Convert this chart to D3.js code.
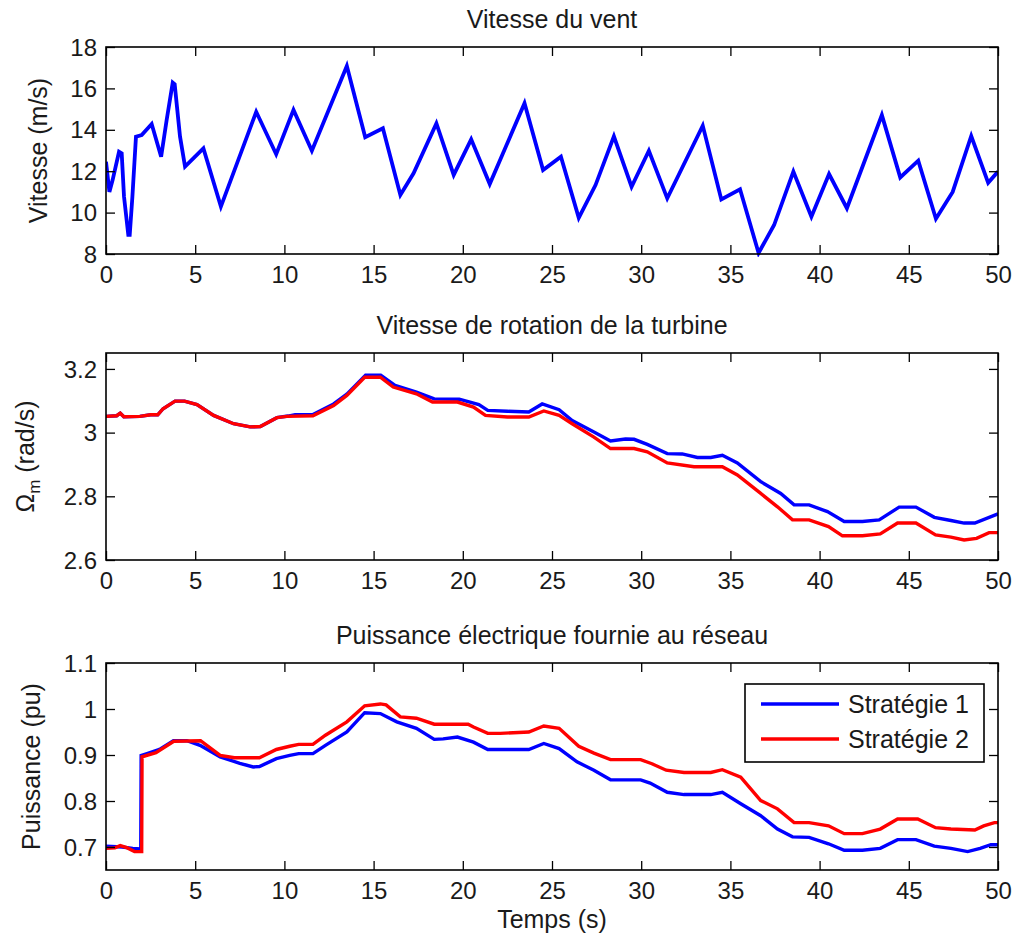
<!DOCTYPE html>
<html>
<head>
<meta charset="utf-8">
<script src="https://cdn.jsdelivr.net/npm/d3@7"></script>
<style>
  html, body { margin: 0; padding: 0; background: #fff; }
  svg { display: block; font-family: "Liberation Sans", Arial, sans-serif; }
</style>
</head>
<body>
<svg id="fig" width="1014" height="937"></svg>
<script>
// ---- Data -------------------------------------------------------------
// Wind speed (m/s) : [time s, value]
const windSpeed = [
  [0, 12.46], [0.19, 11.0], [0.37, 11.57], [0.73, 12.94], [0.88, 12.86],
  [1.01, 10.77], [1.25, 8.92], [1.33, 8.92], [1.48, 10.77], [1.68, 13.67],
  [2.0, 13.75], [2.56, 14.28], [3.09, 12.7], [3.4, 14.47], [3.74, 16.28],
  [3.85, 16.2], [4.15, 13.67], [4.43, 12.22], [5.46, 13.1], [6.44, 10.29],
  [8.42, 14.87], [9.54, 12.82], [10.51, 14.96], [11.54, 12.99], [13.5, 17.08],
  [14.53, 13.64], [15.52, 14.07], [16.5, 10.85], [17.24, 11.9], [18.52, 14.31],
  [19.49, 11.82], [20.47, 13.54], [21.51, 11.38], [23.46, 15.28], [24.5, 12.06],
  [25.5, 12.7], [26.5, 9.75], [27.44, 11.33], [28.47, 13.68], [29.46, 11.25],
  [30.43, 12.99], [31.46, 10.69], [33.45, 14.2], [34.49, 10.64], [35.54, 11.13],
  [36.58, 8.05], [37.45, 9.4], [38.53, 11.98], [39.54, 9.8], [40.53, 11.86],
  [41.53, 10.21], [43.49, 14.71], [44.52, 11.7], [45.53, 12.51], [46.52, 9.7],
  [47.46, 11.0], [48.5, 13.7], [49.45, 11.44], [50, 11.98]
];

// Turbine rotation speed (rad/s), strategy 1
const omegaS1 = [
  [0, 3.051], [0.6, 3.053], [0.8, 3.061], [1.0, 3.05], [1.9, 3.051], [2.5, 3.056],
  [2.9, 3.056], [3.2, 3.075], [3.87, 3.099], [4.4, 3.099], [5.1, 3.088], [6.03, 3.054],
  [7.15, 3.028], [8.08, 3.018], [8.65, 3.019], [9.58, 3.047], [10.2, 3.052], [10.6, 3.056],
  [11.6, 3.057], [12.76, 3.09], [13.5, 3.121], [14.55, 3.18], [15.4, 3.18], [16.2, 3.148],
  [17.4, 3.127], [18.4, 3.106], [19.8, 3.105], [20.9, 3.088], [21.4, 3.07], [22.5, 3.067],
  [23.7, 3.065], [24.45, 3.09], [25.4, 3.072], [26.13, 3.038], [27.35, 3.002], [28.28, 2.974],
  [29.12, 2.98], [29.6, 2.979], [30.34, 2.963], [31.46, 2.934], [32.3, 2.933], [33.15, 2.922],
  [33.9, 2.922], [34.55, 2.929], [35.39, 2.905], [36.7, 2.846], [37.82, 2.809], [38.57, 2.773],
  [39.41, 2.773], [40.44, 2.752], [41.38, 2.721], [42.4, 2.721], [43.34, 2.726], [44.46, 2.766],
  [45.4, 2.766], [46.43, 2.734], [47.36, 2.724], [48.1, 2.716], [48.7, 2.716], [50, 2.745]
];

// Turbine rotation speed (rad/s), strategy 2
const omegaS2 = [
  [0, 3.051], [0.6, 3.053], [0.8, 3.061], [1.0, 3.05], [1.9, 3.051], [2.5, 3.056],
  [2.9, 3.056], [3.2, 3.075], [3.87, 3.099], [4.4, 3.099], [5.1, 3.088], [6.03, 3.054],
  [7.15, 3.028], [8.08, 3.018], [8.65, 3.019], [9.58, 3.047], [10.14, 3.051], [11.6, 3.053],
  [12.76, 3.085], [13.5, 3.117], [14.5, 3.174], [15.38, 3.174], [16.1, 3.143], [17.4, 3.122],
  [18.3, 3.096], [19.7, 3.096], [20.6, 3.08], [21.27, 3.054], [22.5, 3.049], [23.7, 3.049],
  [24.54, 3.068], [25.4, 3.054], [26.13, 3.028], [27.35, 2.986], [28.28, 2.95], [29.6, 2.95],
  [30.34, 2.94], [31.46, 2.905], [32.96, 2.893], [34.55, 2.893], [35.39, 2.867], [36.7, 2.809],
  [37.64, 2.767], [38.48, 2.726], [39.41, 2.726], [40.5, 2.705], [41.28, 2.676], [42.4, 2.676],
  [43.4, 2.682], [44.37, 2.716], [45.4, 2.716], [46.5, 2.679], [47.36, 2.672], [48.1, 2.663],
  [48.8, 2.668], [49.5, 2.686], [50, 2.686]
];

// Electrical power delivered to the grid (pu), strategy 1
const powerS1 = [
  [0, 0.702], [0.9, 0.70], [1.5, 0.697], [1.95, 0.696], [1.97, 0.899], [2.3, 0.903],
  [3.0, 0.912], [3.78, 0.931], [4.53, 0.931], [5.27, 0.921], [6.4, 0.896], [7.5, 0.882],
  [8.25, 0.874], [8.6, 0.875], [9.55, 0.892], [10.3, 0.899], [10.8, 0.903], [11.6, 0.903],
  [12.3, 0.921], [13.5, 0.95], [14.5, 0.992], [15.38, 0.99], [16.3, 0.972], [17.4, 0.958],
  [18.4, 0.934], [18.9, 0.935], [19.7, 0.939], [20.6, 0.928], [21.4, 0.912], [23.7, 0.912],
  [24.54, 0.925], [25.4, 0.914], [26.4, 0.885], [27.35, 0.867], [28.28, 0.846], [29.97, 0.846],
  [30.5, 0.839], [31.46, 0.819], [32.4, 0.814], [33.9, 0.814], [34.55, 0.819], [35.58, 0.794],
  [36.7, 0.768], [37.64, 0.739], [38.48, 0.722], [39.41, 0.721], [40.5, 0.707], [41.38, 0.693],
  [42.4, 0.693], [43.4, 0.697], [44.37, 0.716], [45.4, 0.716], [46.43, 0.702], [47.36, 0.697],
  [48.3, 0.69], [49.0, 0.697], [49.6, 0.705], [50, 0.705]
];

// Electrical power delivered to the grid (pu), strategy 2
const powerS2 = [
  [0, 0.697], [0.5, 0.698], [0.8, 0.703], [1.2, 0.698], [1.6, 0.69], [2.0, 0.69],
  [2.02, 0.896], [2.8, 0.905], [3.8, 0.93], [5.3, 0.931], [6.4, 0.899], [7.2, 0.894],
  [8.6, 0.894], [9.55, 0.912], [10.3, 0.919], [10.8, 0.923], [11.6, 0.923], [12.3, 0.943],
  [13.5, 0.972], [14.5, 1.007], [15.38, 1.011], [15.7, 1.009], [16.5, 0.983], [17.4, 0.98],
  [18.4, 0.967], [20.3, 0.967], [20.6, 0.961], [21.4, 0.947], [22.1, 0.947], [23.7, 0.95],
  [24.54, 0.963], [25.4, 0.958], [26.5, 0.919], [27.35, 0.904], [28.28, 0.89], [29.97, 0.89],
  [30.6, 0.881], [31.4, 0.867], [32.4, 0.862], [33.9, 0.862], [34.55, 0.868], [35.58, 0.852],
  [36.7, 0.801], [37.64, 0.783], [38.57, 0.753], [39.41, 0.753], [40.5, 0.746], [41.38, 0.729],
  [42.4, 0.729], [43.4, 0.739], [44.37, 0.761], [45.5, 0.761], [46.5, 0.742], [47.36, 0.739],
  [48.7, 0.737], [49.2, 0.746], [49.8, 0.753], [50, 0.753]
];

// Tick values
const timeTicks  = [0, 5, 10, 15, 20, 25, 30, 35, 40, 45, 50];
const windTicks  = [8, 10, 12, 14, 16, 18];
const omegaTicks = [2.6, 2.8, 3.0, 3.2];
const powerTicks = [0.7, 0.8, 0.9, 1.0, 1.1];

const legendLabels = ["Stratégie 1", "Stratégie 2"];
const seriesColors = ["#0000ff", "#ff0000"];

// ---- Layout -----------------------------------------------------------
const svg = d3.select("#fig");
svg.append("rect").attr("width", 1014).attr("height", 937).attr("fill", "#fff");

const left = 106, right = 998;
const TICK_FONT = 24, LABEL_FONT = 25;
const textColor = "#1a1a1a";

const x = d3.scaleLinear().domain([0, 50]).range([left, right]);

function panel(opts) {
  const { top, bottom, yDomain, yTicks, yFormat, title, series, widths } = opts;
  const y = d3.scaleLinear().domain(yDomain).range([bottom, top]);
  const g = svg.append("g");

  const clipId = "clip" + Math.round(top);
  g.append("clipPath").attr("id", clipId)
    .append("rect").attr("x", left).attr("y", top - 3)
    .attr("width", right - left).attr("height", bottom - top + 6);

  const line = d3.line().x(d => x(d[0])).y(d => y(d[1]));
  series.forEach((s, i) => {
    g.append("path").datum(s.data)
      .attr("clip-path", `url(#${clipId})`)
      .attr("fill", "none").attr("stroke", s.color)
      .attr("stroke-width", widths).attr("stroke-linejoin", "miter")
      .attr("d", line);
  });

  // axes, ticks pointing inward on all four sides
  const ax = g.append("g").attr("transform", `translate(0,${bottom})`)
    .call(d3.axisBottom(x).tickValues(timeTicks).tickSizeInner(-9).tickSizeOuter(0)
      .tickPadding(12).tickFormat(d3.format("d")));
  const axTop = g.append("g").attr("transform", `translate(0,${top})`)
    .call(d3.axisTop(x).tickValues(timeTicks).tickSizeInner(-9).tickSizeOuter(0).tickFormat(""));
  const ay = g.append("g").attr("transform", `translate(${left},0)`)
    .call(d3.axisLeft(y).tickValues(yTicks).tickSizeInner(-9).tickSizeOuter(0)
      .tickPadding(9).tickFormat(yFormat));
  const ayR = g.append("g").attr("transform", `translate(${right},0)`)
    .call(d3.axisRight(y).tickValues(yTicks).tickSizeInner(-9).tickSizeOuter(0).tickFormat(""));

  [ax, axTop, ay, ayR].forEach(a => {
    a.select(".domain").remove();
    a.selectAll("line").attr("stroke", "#000").attr("stroke-width", 1.3);
    a.selectAll("text").attr("font-size", TICK_FONT).attr("fill", textColor)
      .attr("font-family", "Liberation Sans, Arial, sans-serif");
  });
  ay.selectAll("text").attr("dy", "0.34em");

  g.append("rect").attr("x", left).attr("y", top)
    .attr("width", right - left).attr("height", bottom - top)
    .attr("fill", "none").attr("stroke", "#000").attr("stroke-width", 1.6);

  g.append("text").attr("x", (left + right) / 2).attr("y", top - 19)
    .attr("text-anchor", "middle").attr("font-size", LABEL_FONT).attr("fill", textColor)
    .text(title);

  return { g, y, top, bottom };
}

const fmtPlain = d => (+d.toFixed(2)).toString();

// Panel 1: wind speed
const p1 = panel({
  top: 47, bottom: 254, yDomain: [8, 18], yTicks: windTicks, yFormat: fmtPlain,
  title: "Vitesse du vent", widths: 3.8,
  series: [{ data: windSpeed, color: seriesColors[0] }]
});
p1.g.append("text")
  .attr("transform", `translate(47,${(p1.top + p1.bottom) / 2}) rotate(-90)`)
  .attr("text-anchor", "middle").attr("font-size", LABEL_FONT).attr("fill", textColor)
  .text("Vitesse (m/s)");

// Panel 2: turbine rotation speed
const p2 = panel({
  top: 353, bottom: 560, yDomain: [2.6, 3.25], yTicks: omegaTicks, yFormat: fmtPlain,
  title: "Vitesse de rotation de la turbine", widths: 3.4,
  series: [{ data: omegaS1, color: seriesColors[0] }, { data: omegaS2, color: seriesColors[1] }]
});
const yl2 = p2.g.append("text")
  .attr("transform", `translate(34,${(p2.top + p2.bottom) / 2}) rotate(-90)`)
  .attr("text-anchor", "middle").attr("font-size", LABEL_FONT).attr("fill", textColor);
yl2.append("tspan").text("Ω");
yl2.append("tspan").attr("font-size", 17).attr("dy", 6).text("m");
yl2.append("tspan").attr("dy", -6).text(" (rad/s)");

// Panel 3: electrical power
const p3 = panel({
  top: 663, bottom: 870, yDomain: [0.65, 1.1], yTicks: powerTicks, yFormat: fmtPlain,
  title: "Puissance électrique fournie au réseau", widths: 3.4,
  series: [{ data: powerS1, color: seriesColors[0] }, { data: powerS2, color: seriesColors[1] }]
});
p3.g.append("text")
  .attr("transform", `translate(40,${(p3.top + p3.bottom) / 2}) rotate(-90)`)
  .attr("text-anchor", "middle").attr("font-size", LABEL_FONT).attr("fill", textColor)
  .text("Puissance (pu)");

svg.append("text").attr("x", (left + right) / 2).attr("y", 928)
  .attr("text-anchor", "middle").attr("font-size", LABEL_FONT).attr("fill", textColor)
  .text("Temps (s)");

// Legend
const lg = svg.append("g");
lg.append("rect").attr("x", 745).attr("y", 684).attr("width", 239).attr("height", 78)
  .attr("fill", "#fff").attr("stroke", "#000").attr("stroke-width", 1.6);
legendLabels.forEach((lab, i) => {
  const ly = 704 + i * 35;
  lg.append("line").attr("x1", 761).attr("x2", 839).attr("y1", ly).attr("y2", ly)
    .attr("stroke", seriesColors[i]).attr("stroke-width", 3.4);
  lg.append("text").attr("x", 848).attr("y", ly).attr("dy", "0.36em")
    .attr("font-size", LABEL_FONT).attr("fill", textColor).text(lab);
});
</script>
</body>
</html>
